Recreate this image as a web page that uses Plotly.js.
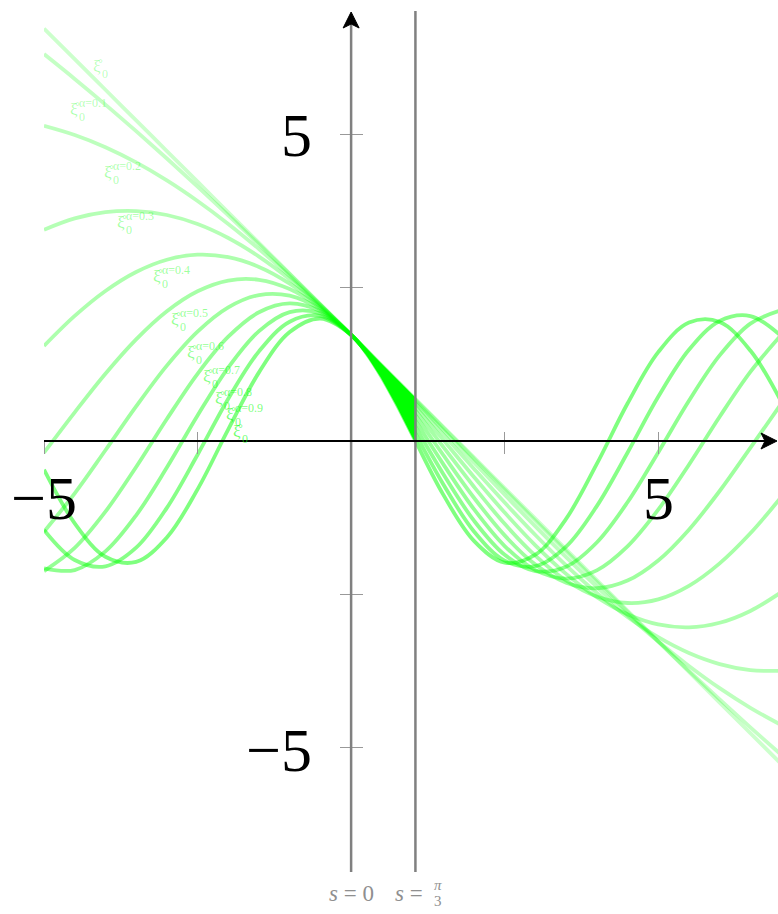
<!DOCTYPE html>
<html>
<head>
<meta charset="utf-8">
<script src="https://cdn.plot.ly/plotly-3.0.1.min.js"></script>
<style>
  html, body { margin: 0; padding: 0; background: #ffffff; }
  #chart { width: 778px; height: 914px; }
</style>
</head>
<body>
<div id="chart"></div>
<script>
// Arc parameter s at which every curve is sampled
const s = [-5, -4.5, -4, -3.5, -3, -2.5, -2, -1.5, -1, -0.5, 0, 0.25, 0.5, 0.75, 1.047,
           1.5, 2, 2.5, 3, 3.5, 4, 4.5, 5, 5.5, 6, 6.5, 7];

// Fractional orders of the family
const alphas = [0, 0.1, 0.2, 0.3, 0.4, 0.5, 0.6, 0.7, 0.8, 0.9, 1];

// Curve values xi_0^alpha(s), one array per order
const xi00 = [6.732, 6.232, 5.732, 5.232, 4.732, 4.232, 3.732, 3.232, 2.732, 2.232, 1.732, 1.482, 1.232, 0.982, 0.685,
              0.232, -0.268, -0.768, -1.268, -1.768, -2.268, -2.768, -3.268, -3.768, -4.268, -4.768, -5.268];
const xi01 = [6.314, 5.909, 5.490, 5.056, 4.610, 4.152, 3.684, 3.207, 2.722, 2.230, 1.732, 1.482, 1.230, 0.978, 0.677,
              0.218, -0.289, -0.796, -1.301, -1.802, -2.299, -2.790, -3.274, -3.750, -4.217, -4.673, -5.117];
const xi02 = [5.143, 4.993, 4.794, 4.546, 4.253, 3.917, 3.543, 3.132, 2.691, 2.223, 1.732, 1.480, 1.224, 0.965, 0.655,
              0.177, -0.352, -0.877, -1.394, -1.896, -2.380, -2.840, -3.272, -3.670, -4.033, -4.354, -4.633];
const xi03 = [3.447, 3.632, 3.734, 3.753, 3.688, 3.540, 3.312, 3.010, 2.640, 2.211, 1.732, 1.477, 1.215, 0.945, 0.617,
              0.110, -0.453, -1.005, -1.534, -2.030, -2.479, -2.873, -3.202, -3.460, -3.640, -3.738, -3.752];
const xi04 = [1.552, 2.041, 2.448, 2.758, 2.958, 3.040, 3.000, 2.841, 2.569, 2.194, 1.732, 1.474, 1.201, 0.916, 0.566,
              0.018, -0.587, -1.168, -1.703, -2.169, -2.550, -2.828, -2.994, -3.041, -2.966, -2.773, -2.470];
const xi05 = [-0.191, 0.468, 1.098, 1.659, 2.118, 2.444, 2.619, 2.631, 2.479, 2.173, 1.732, 1.469, 1.183, 0.879, 0.500,
              -0.096, -0.747, -1.352, -1.872, -2.277, -2.539, -2.644, -2.585, -2.364, -1.997, -1.506, -0.920];
const xi06 = [-1.480, -0.854, -0.151, 0.564, 1.230, 1.785, 2.181, 2.382, 2.371, 2.147, 1.732, 1.464, 1.162, 0.835, 0.422,
              -0.229, -0.926, -1.540, -2.017, -2.313, -2.403, -2.278, -1.950, -1.447, -0.816, -0.111, 0.603];
const xi07 = [-2.123, -1.744, -1.153, -0.424, 0.359, 1.097, 1.702, 2.101, 2.245, 2.117, 1.732, 1.457, 1.137, 0.783, 0.331,
              -0.377, -1.113, -1.714, -2.108, -2.245, -2.111, -1.720, -1.121, -0.387, 0.396, 1.128, 1.727];
const xi08 = [-2.078, -2.106, -1.802, -1.213, -0.433, 0.416, 1.199, 1.793, 2.103, 2.082, 1.732, 1.449, 1.109, 0.724, 0.230,
              -0.538, -1.300, -1.857, -2.122, -2.051, -1.656, -1.000, -0.186, 0.657, 1.397, 1.916, 2.132];
const xi09 = [-1.451, -1.942, -2.045, -1.741, -1.091, -0.224, 0.689, 1.463, 1.947, 2.043, 1.732, 1.441, 1.076, 0.658, 0.119,
              -0.705, -1.476, -1.953, -2.041, -1.723, -1.062, -0.192, 0.721, 1.488, 1.958, 2.039, 1.713];
const xi10 = [-0.468, -1.343, -1.889, -1.973, -1.574, -0.789, 0.189, 1.120, 1.777, 1.999, 1.732, 1.431, 1.041, 0.586, 0.000,
              -0.875, -1.630, -1.986, -1.856, -1.271, -0.375, 0.612, 1.450, 1.933, 1.943, 1.476, 0.649];

const curves = [xi00, xi01, xi02, xi03, xi04, xi05, xi06, xi07, xi08, xi09, xi10];

// Axis tick positions and the two labelled ticks
const tickVals = [-5, -2.5, 2.5, 5];
const labelVals = [-5, 5];
const labelText = ['\u22125', '5'];

// Marked parameter values (vertical guides)
const guideS = [0, 1.047];

// ---- layout geometry ----
const W = 778, H = 914;
const M = { l: 44, r: 0, t: 9, b: 41 };
const XR = [-5, 6.95], YR = [-7.05, 7.05];
const PW = W - M.l - M.r, PH = H - M.t - M.b;
const dx = px => XR[0] + (px - M.l) / PW * (XR[1] - XR[0]);
const dy = py => YR[1] - (py - M.t) / PH * (YR[1] - YR[0]);
const py2paper = py => (H - M.b - py) / PH;
const paperX = v => (v - XR[0]) / (XR[1] - XR[0]);
const paperY = v => (v - YR[0]) / (YR[1] - YR[0]);

const SERIF = 'Liberation Serif, serif';
const green = a => 'rgba(0,255,0,' + a + ')';
const opacityFor = a => 0.2 + 0.3 * a;

// ---- traces ----
const traces = curves.map((ys, i) => ({
  type: 'scatter', mode: 'lines', x: s, y: ys,
  line: { color: green(opacityFor(alphas[i])), width: 3.8, shape: 'spline', smoothing: 1 },
  hoverinfo: 'skip', showlegend: false
}));

// solid band swept by the family between the two guides
const i0 = s.indexOf(guideS[0]), i1 = s.indexOf(guideS[1]);
const bandS = s.slice(i0, i1 + 1);
const bandUpper = curves[0].slice(i0, i1 + 1);
const bandLower = curves[curves.length - 1].slice(i0, i1 + 1);
traces.push({
  type: 'scatter', mode: 'lines',
  x: bandS.concat(bandS.slice().reverse()),
  y: bandUpper.concat(bandLower.slice().reverse()),
  fill: 'toself', fillcolor: '#00ff00',
  line: { color: '#00ff00', width: 2 },
  hoverinfo: 'skip', showlegend: false
});

// ---- shapes: guides, axis lines and arrow heads ----
const xTip = dx(777), yTip = dy(12);
const shapes = guideS.map((g, k) => ({
  type: 'line', xref: 'x', yref: 'y', x0: g, x1: g, y0: dy(872), y1: k === 0 ? dy(20) : dy(11),
  line: { color: '#808080', width: 2.5 }, layer: 'above'
}));
// horizontal axis
shapes.push({
  type: 'line', xref: 'x', yref: 'y', x0: XR[0], x1: dx(766), y0: 0, y1: 0,
  line: { color: '#000000', width: 2 }, layer: 'above'
});
// stealth heads (pixel-sized, anchored at the tips)
shapes.push({
  type: 'path', xref: 'x', yref: 'y', xsizemode: 'pixel', ysizemode: 'pixel',
  xanchor: xTip, yanchor: 0, path: 'M0,0 L-16,8 L-12,0 L-16,-8 Z',
  fillcolor: '#000000', line: { color: '#000000', width: 1 }, layer: 'above'
});
shapes.push({
  type: 'path', xref: 'x', yref: 'y', xsizemode: 'pixel', ysizemode: 'pixel',
  xanchor: 0, yanchor: yTip, path: 'M0,0 L-8,-16 L0,-12 L8,-16 Z',
  fillcolor: '#000000', line: { color: '#000000', width: 1 }, layer: 'above'
});

// ---- annotations ----
const annotations = [];

// large tick labels
labelVals.forEach((v, k) => {
  annotations.push({
    x: v, y: dy(498), xref: 'x', yref: 'y', text: labelText[k], showarrow: false,
    xanchor: 'center', yanchor: 'middle', font: { family: SERIF, size: 62, color: '#000000' }
  });
  annotations.push({
    x: dx(314), y: v + (v < 0 ? -0.05 : 0), xref: 'x', yref: 'y', text: labelText[k], showarrow: false,
    xanchor: 'right', yanchor: 'middle', font: { family: SERIF, size: 62, color: '#000000' }
  });
});

// guide captions (below the plot area, paper-referenced vertically)
const GRAY_TXT = '#8f8f8f';
annotations.push({
  x: guideS[0], y: py2paper(893), xref: 'x', yref: 'paper', text: '<i>s</i> = 0', showarrow: false,
  xanchor: 'center', yanchor: 'middle', font: { family: SERIF, size: 23, color: GRAY_TXT }
});
annotations.push({
  x: dx(425), y: py2paper(893), xref: 'x', yref: 'paper', text: '<i>s</i> =', showarrow: false,
  xanchor: 'right', yanchor: 'middle', font: { family: SERIF, size: 23, color: GRAY_TXT }
});
annotations.push({
  x: dx(438), y: py2paper(885), xref: 'x', yref: 'paper', text: '<i>\u03c0</i>', showarrow: false,
  xanchor: 'center', yanchor: 'middle', font: { family: SERIF, size: 15, color: GRAY_TXT }
});
annotations.push({
  x: dx(438), y: py2paper(901), xref: 'x', yref: 'paper', text: '3', showarrow: false,
  xanchor: 'center', yanchor: 'middle', font: { family: SERIF, size: 15, color: GRAY_TXT }
});

// curve labels: left edge and vertical centre of the xi glyph for each order (pixels)
const labelPx = [[92, 66], [69, 109], [103, 172], [116, 222], [152, 276], [170, 319],
                 [186, 352], [202, 376], [214, 398], [225, 414], [232, 431]];
const XI_RING = '\u03be\u030a';
alphas.forEach((a, i) => {
  const [lx, cy] = labelPx[i];
  const col = green(Math.min(1, opacityFor(a) + 0.08));
  annotations.push({
    x: dx(lx), y: dy(cy), xref: 'x', yref: 'y', text: XI_RING, showarrow: false,
    xanchor: 'left', yanchor: 'middle', borderpad: 0,
    font: { family: SERIF, size: 17, color: col }
  });
  annotations.push({
    x: dx(lx + 8.5), y: dy(cy + 8), xref: 'x', yref: 'y', text: '0', showarrow: false,
    xanchor: 'left', yanchor: 'middle', borderpad: 0,
    font: { family: SERIF, size: 12, color: col }
  });
  if (a > 0 && a < 1) {
    annotations.push({
      x: dx(lx + 8.5), y: dy(cy - 6), xref: 'x', yref: 'y', text: '\u03b1=' + a.toFixed(1), showarrow: false,
      xanchor: 'left', yanchor: 'middle', borderpad: 0,
      font: { family: SERIF, size: 12, color: col }
    });
  }
});

const axisBase = {
  range: XR, showgrid: false, zeroline: false, showline: false, showticklabels: false,
  tickmode: 'array', tickvals: tickVals, tickcolor: '#999999', tickwidth: 1
};
const yBase = {
  range: YR, showgrid: false, zeroline: false, showline: false, showticklabels: false,
  tickmode: 'array', tickvals: tickVals, tickcolor: '#999999', tickwidth: 1
};

const layout = {
  width: W, height: H,
  margin: M,
  paper_bgcolor: '#ffffff', plot_bgcolor: '#ffffff',
  showlegend: false,
  font: { family: SERIF },
  xaxis: Object.assign({}, axisBase, { anchor: 'free', position: paperY(0), ticks: 'outside', ticklen: 12 }),
  xaxis2: Object.assign({}, axisBase, { overlaying: 'x', matches: 'x', anchor: 'free', position: paperY(0), ticks: 'inside', ticklen: 9 }),
  yaxis: Object.assign({}, yBase, { anchor: 'free', position: paperX(0), ticks: 'outside', ticklen: 11 }),
  yaxis2: Object.assign({}, yBase, { overlaying: 'y', matches: 'y', anchor: 'free', position: paperX(0), ticks: 'inside', ticklen: 11 }),
  shapes: shapes,
  annotations: annotations
};

// empty trace so the overlay axes are drawn
traces.push({ type: 'scatter', x: [], y: [], xaxis: 'x2', yaxis: 'y2', hoverinfo: 'skip', showlegend: false });

Plotly.newPlot('chart', traces, layout, { displayModeBar: false, staticPlot: true });
</script>
</body>
</html>
